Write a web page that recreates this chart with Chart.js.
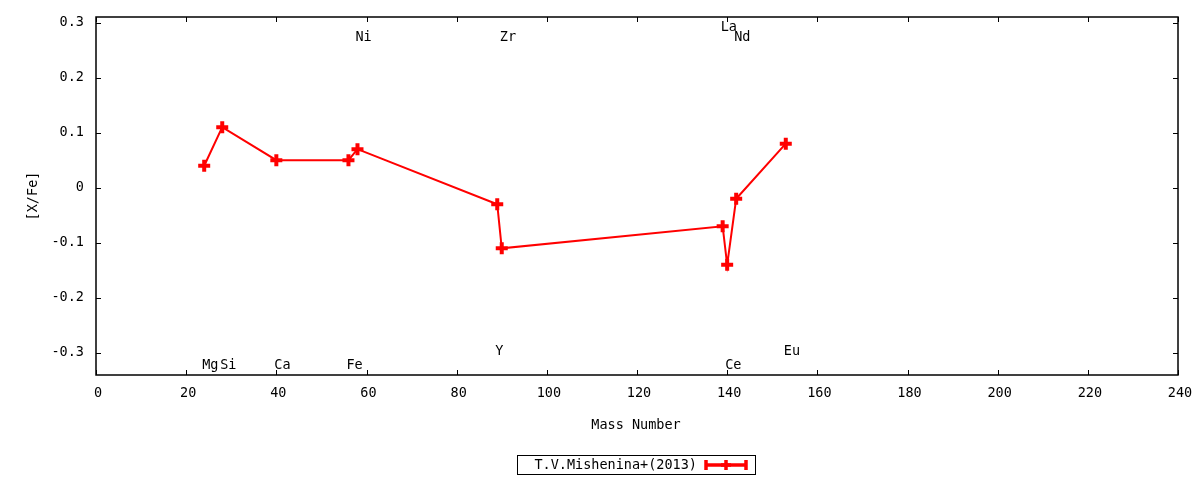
<!DOCTYPE html>
<html>
<head>
<meta charset="utf-8">
<script src="https://cdn.jsdelivr.net/npm/chart.js@4.4.1/dist/chart.umd.min.js"></script>
<style>
  html, body { margin: 0; padding: 0; background: #fff; }
  #wrap { width: 1200px; height: 480px; }
</style>
</head>
<body>
<div id="wrap"><canvas id="xfeChart"></canvas></div>
<script>
// element, mass number, [X/Fe]
const elements = ['Mg', 'Si', 'Ca', 'Fe', 'Ni', 'Y', 'Zr', 'La', 'Ce', 'Nd', 'Eu'];
const massNumbers = [24, 28, 40, 56, 58, 89, 90, 139, 140, 142, 153];
const xfeValues = [0.04, 0.11, 0.05, 0.05, 0.07, -0.03, -0.11, -0.07, -0.14, -0.02, 0.08];
// where each element name is written (y in [X/Fe] units)
const labelY = [-0.32, -0.32, -0.32, -0.32, 0.275, -0.295, 0.275, 0.293, -0.32, 0.275, -0.295];
const yTicks = [-0.3, -0.2, -0.1, 0, 0.1, 0.2, 0.3];
const seriesName = 'T.V.Mishenina+(2013)';

const FONT = '13.5px "DejaVu Sans Mono"';
const RED = '#ff0000';

function drawPlus(ctx, x, y, r) {
    ctx.beginPath();
    ctx.moveTo(x - r, y);
    ctx.lineTo(x + r, y);
    ctx.moveTo(x, y - r);
    ctx.lineTo(x, y + r);
    ctx.stroke();
}

const gnuplotFrame = {
    id: 'gnuplotFrame',
    afterDatasetsDraw(chart) {
        const ctx = chart.ctx;
        const area = chart.chartArea;
        const xs = chart.scales.x;
        const ys = chart.scales.y;
        ctx.save();

        // border
        ctx.strokeStyle = '#000';
        ctx.lineWidth = 1.5;
        ctx.strokeRect(area.left, area.top, area.right - area.left, area.bottom - area.top);

        // inward ticks, mirrored
        ctx.lineWidth = 1;
        ctx.beginPath();
        xs.ticks.forEach(t => {
            const px = Math.round(xs.getPixelForValue(t.value)) + 0.5;
            ctx.moveTo(px, area.bottom);
            ctx.lineTo(px, area.bottom - 5);
            ctx.moveTo(px, area.top);
            ctx.lineTo(px, area.top + 5);
        });
        ys.ticks.forEach(t => {
            const py = Math.round(ys.getPixelForValue(t.value)) + 0.5;
            ctx.moveTo(area.left, py);
            ctx.lineTo(area.left + 5, py);
            ctx.moveTo(area.right, py);
            ctx.lineTo(area.right - 5, py);
        });
        ctx.stroke();

        // element names
        ctx.fillStyle = '#000';
        ctx.font = FONT;
        ctx.textAlign = 'left';
        ctx.textBaseline = 'middle';
        elements.forEach((el, i) => {
            const px = xs.getPixelForValue(massNumbers[i]) - 2;
            const py = ys.getPixelForValue(labelY[i]) + 1.5;
            ctx.fillText(el, px, py);
        });

        // axis titles
        ctx.textAlign = 'center';
        ctx.fillText('Mass Number', (area.left + area.right) / 2 - 1, 425);
        ctx.save();
        ctx.translate(33, (area.top + area.bottom) / 2);
        ctx.rotate(-Math.PI / 2);
        ctx.fillText('[X/Fe]', 0, 0);
        ctx.restore();

        // legend box
        ctx.lineWidth = 1;
        ctx.strokeRect(517.5, 455.5, 238, 19);
        ctx.textAlign = 'right';
        ctx.fillText(seriesName, 697, 465);
        ctx.strokeStyle = RED;
        ctx.lineWidth = 3.5;
        ctx.beginPath();
        ctx.moveTo(706, 465);
        ctx.lineTo(746, 465);
        ctx.moveTo(706, 460);
        ctx.lineTo(706, 470);
        ctx.moveTo(746, 460);
        ctx.lineTo(746, 470);
        ctx.stroke();
        drawPlus(ctx, 726, 465, 5);

        ctx.restore();
    }
};

new Chart(document.getElementById('xfeChart'), {
    type: 'scatter',
    data: {
        datasets: [{
            label: seriesName,
            data: massNumbers.map((m, i) => ({ x: m, y: xfeValues[i] })),
            showLine: true,
            borderColor: RED,
            backgroundColor: RED,
            borderWidth: 2,
            pointStyle: 'cross',
            pointRadius: 6,
            pointBorderWidth: 4,
            pointHoverRadius: 6
        }]
    },
    options: {
        responsive: true,
        maintainAspectRatio: false,
        animation: false,
        layout: {
            padding: { top: 17, right: 22, left: 0, bottom: 0 }
        },
        plugins: {
            legend: { display: false },
            tooltip: { enabled: false }
        },
        scales: {
            x: {
                type: 'linear',
                min: 0,
                max: 240,
                ticks: {
                    stepSize: 20,
                    color: '#000',
                    font: { family: 'DejaVu Sans Mono', size: 13.5 },
                    padding: 10,
                    labelOffset: 2,
                    maxRotation: 0
                },
                grid: { display: false, drawTicks: false },
                border: { display: false },
                afterFit(scale) {
                    scale.height = 105;
                    scale.paddingLeft = 0;
                    scale.paddingRight = 0;
                }
            },
            y: {
                type: 'linear',
                min: -0.34,
                max: 0.31,
                afterBuildTicks(scale) {
                    scale.ticks = yTicks.map(v => ({ value: v }));
                },
                ticks: {
                    color: '#000',
                    font: { family: 'DejaVu Sans Mono', size: 13.5 },
                    padding: 12,
                    callback: v => String(Math.round(v * 10) / 10)
                },
                grid: { display: false, drawTicks: false },
                border: { display: false },
                afterFit(scale) {
                    scale.width = 96;
                    scale.paddingTop = 0;
                    scale.paddingBottom = 0;
                }
            }
        }
    },
    plugins: [gnuplotFrame]
});
</script>
</body>
</html>
